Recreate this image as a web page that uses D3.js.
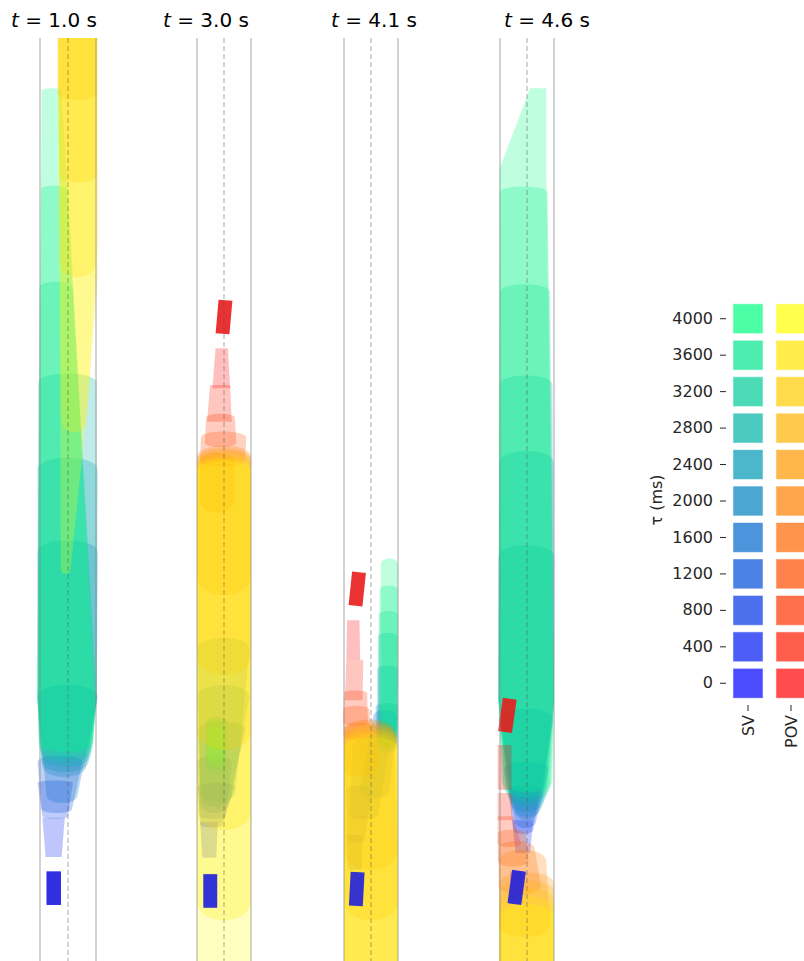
<!DOCTYPE html>
<html><head><meta charset="utf-8">
<script src="https://cdn.jsdelivr.net/npm/d3@7"></script>
<style>
body{margin:0;background:#fff}
svg{display:block}
text{font-family:"DejaVu Sans",sans-serif;fill:#262626}
</style></head>
<body><svg id="c" width="804" height="961"></svg>
<script>
// ---------------- data ----------------
const timeLabels = ["1.0", "3.0", "4.1", "4.6"];          // s
const tauValues = [0, 400, 800, 1200, 1600, 2000, 2400, 2800, 3200, 3600, 4000]; // ms
const agentNames = ["SV", "POV"];

// occupancy sets: [tauIndex, bottomBulge(m), topBulge(m), stations [[s(m), left(m), right(m)], ...] bottom->top]
const svSets1 = [
  [0, 0, 0, [[7.2, -2.7, -0.9], [11.2, -2.7, -0.9]]],
  [1, 0, 0, [[13.0, -2.8, -0.8], [17.9, -3.2, -0.4]]],
  [2, 0.3, 0.3, [[18.1, -3.2, 0.0], [22.25, -3.8, 0.6]]],
  [3, 0.5, 0.8, [[19.0, -3.3, 0.5], [24.9, -3.8, 1.8]]],
  [4, 1.0, 1.5, [[20.75, -2.7, 1.2], [33.0, -3.8, 3.7]]],
  [5, 1.5, 1.5, [[24.5, -3.2, 2.3], [32.6, -3.8, 3.6], [51.1, -3.8, 3.7]]],
  [6, 1.5, 1.5, [[25.1, -3.3, 2.6], [32.6, -3.8, 3.6], [61.4, -3.8, 3.7]]],
  [7, 1.5, 1.2, [[25.75, -3.4, 2.8], [32.6, -3.8, 3.6], [72.25, -3.7, 3.6]]],
  [8, 1.5, 0.8, [[26.4, -3.5, 3.0], [32.6, -3.8, 3.6], [84.1, -3.6, 0.6]]],
  [9, 1.5, 0.5, [[27.0, -3.6, 3.1], [32.6, -3.8, 3.5], [96.4, -3.4, 0.0]]],
  [10, 1.5, 0.3, [[27.6, -3.7, 3.2], [32.6, -3.8, 3.4], [108.8, -3.3, -0.8]]]
];
const povSets1 = [
  [6, 1.0, 0, [[108.6, -1.3, 3.6], [125, -1.3, 3.6]]],
  [7, 1.0, 0, [[98.3, -1.1, 3.6], [125, -1.3, 3.6]]],
  [8, 1.5, 0, [[87.0, -1.0, 3.4], [125, -1.3, 3.6]]],
  [9, 1.5, 0, [[67.6, -0.8, 2.3], [85.0, -1.0, 3.7], [125, -1.3, 3.7]]],
  [10, 0.5, 0, [[48.9, -0.9, 0.3], [70.0, -1.0, 2.5], [90.0, -1.1, 3.7], [125, -1.3, 3.7]]]
];
const svSets2 = [
  [0, 0, 0, [[6.9, -2.7, -0.9], [10.9, -2.7, -0.9]]],
  [1, 0, 0, [[12.9, -2.8, -1.0], [17.4, -3.1, -0.8]]],
  [2, 0.3, 0.5, [[17.0, -3.05, -0.25], [21.75, -3.4, 1.4]]],
  [3, 0.5, 1.0, [[18.25, -3.2, 0.25], [24.75, -3.5, 1.0]]],
  [4, 1.0, 1.0, [[19.5, -3.05, 0.5], [28.9, -3.4, 2.8]]],
  [5, 1.5, 1.5, [[20.75, -3.05, 1.0], [33.0, -3.4, 3.3]]],
  [6, 1.5, 1.5, [[21.4, -3.05, 1.5], [38.9, -3.4, 3.3]]],
  [7, 0.5, 0.8, [[23.9, -2.3, 0.25], [29.75, -2.4, 0.5]]],
  [8, 0.5, 0.8, [[24.5, -2.3, 0.3], [29.5, -2.3, 0.3]]],
  [9, 0.5, 0.8, [[25.0, -2.2, 0.2], [29.1, -2.2, 0.2]]],
  [10, 0.5, 0.6, [[25.5, -2.1, 0.1], [28.6, -2.1, 0.1]]]
];
const povSets2 = [
  [0, 0, 0, [[71.6, -1.5, 0.8], [76.6, -1.1, 0.5]]],
  [1, 0, 0, [[67.4, -2.2, 1.0], [72.0, -1.8, 0.8]]],
  [2, 0.5, 0.5, [[64.75, -2.5, 1.6], [67.9, -2.3, 1.4]]],
  [3, 0.8, 0.8, [[62.6, -3.1, 2.7], [65.4, -3.0, 2.9]]],
  [4, 1.5, 1.2, [[57.6, -3.1, 1.4], [62.3, -3.1, 1.4]]],
  [5, 2.5, 1.4, [[48.25, -3.5, 3.5], [63.0, -3.5, 3.5]]],
  [6, 2.5, 1.4, [[38.25, -3.5, 3.5], [62.7, -3.5, 3.5]]],
  [7, 2.5, 1.4, [[28.9, -3.5, 3.5], [62.4, -3.5, 3.5]]],
  [8, 2.5, 1.4, [[18.9, -3.5, 3.5], [62.0, -3.5, 3.5]]],
  [9, 2.5, 1.4, [[7.6, -3.5, 3.5], [61.6, -3.5, 3.5]]],
  [10, 0, 1.4, [[-4.0, -3.5, 3.5], [61.2, -3.5, 3.5]]]
];
const svSets3 = [
  [0, 0, 0, [[7.0, -2.7, -1.0], [11.0, -2.7, -1.0]]],
  [1, 0, 0, [[11.4, -2.9, -1.2], [15.75, -3.2, -1.1]]],
  [2, 0.3, 0.5, [[15.1, -3.0, -0.8], [21.4, -3.2, 0.1]]],
  [3, 0.5, 1.0, [[18.25, -2.7, 0.9], [27.0, -2.4, 2.4]]],
  [4, 1.0, 1.0, [[21.4, -1.4, 2.4], [30.4, 0.25, 3.4]]],
  [5, 1.0, 0.5, [[27.0, 0.7, 3.4], [31.75, 0.6, 3.5]]],
  [6, 1.0, 0.5, [[27.4, 0.8, 3.4], [36.4, 0.8, 3.5]]],
  [7, 1.0, 0.5, [[27.6, 0.9, 3.4], [40.5, 0.9, 3.5]]],
  [8, 1.0, 0.5, [[27.9, 1.0, 3.4], [43.25, 1.0, 3.5]]],
  [9, 1.0, 0.5, [[28.25, 1.1, 3.4], [46.4, 1.1, 3.5]]],
  [10, 1.0, 0.8, [[28.9, 1.4, 3.4], [49.5, 1.27, 3.5]]]
];
const povSets3 = [
  [0, 0, 0, [[37.6, -3.2, -1.4], [42.6, -3.1, -1.5]]],
  [1, 0, 0, [[32.6, -3.4, -1.1], [37.6, -3.2, -1.0]]],
  [2, 0.5, 0.3, [[29.9, -3.6, -0.4], [33.5, -3.5, -0.5]]],
  [3, 0.5, 0.5, [[28.2, -3.6, 0.0], [31.4, -3.6, -0.2]]],
  [4, 1.0, 0.8, [[24.0, -3.5, 1.0], [29.0, -3.5, 0.8]]],
  [5, 2.5, 1.5, [[13.9, -3.5, 3.5], [28.7, -3.5, 3.0]]],
  [6, 2.5, 1.5, [[7.6, -3.5, 3.5], [28.3, -3.5, 3.2]]],
  [7, 2.5, 1.5, [[0.1, -3.5, 3.5], [27.9, -3.5, 3.4]]],
  [8, 0, 1.5, [[-5.0, -3.5, 3.5], [27.5, -3.5, 3.5]]],
  [9, 0, 1.5, [[-5.0, -3.5, 3.5], [27.0, -3.5, 3.5]]],
  [10, 0, 1.5, [[-5.0, -3.5, 3.5], [26.5, -3.5, 3.5]]]
];
const svSets4 = [
  [0, 0, 0, [[7.2, -2.2, -0.5], [11.2, -2.2, -0.5]]],
  [1, 0, 0, [[13.5, -1.5, 0.4], [17.6, -1.9, 0.8]]],
  [2, 0.5, 0.5, [[16.4, -1.8, 0.8], [21.4, -2.4, 1.65]]],
  [3, 1.0, 1.0, [[17.6, -1.6, 1.2], [23.9, -3.0, 2.8]]],
  [4, 1.5, 1.5, [[19.1, -1.6, 1.5], [30.1, -3.7, 3.4]]],
  [5, 1.5, 1.5, [[19.5, -1.9, 1.9], [32.6, -3.7, 3.5], [50.5, -3.7, 3.56]]],
  [6, 1.5, 1.5, [[20.1, -2.2, 2.2], [32.6, -3.7, 3.5], [62.25, -3.6, 3.5]]],
  [7, 1.5, 1.2, [[20.75, -2.5, 2.5], [32.6, -3.7, 3.5], [72.0, -3.56, 3.3]]],
  [8, 1.5, 1.0, [[21.4, -2.8, 2.8], [32.6, -3.7, 3.5], [83.6, -3.5, 3.0]]],
  [9, 1.5, 0.8, [[22.0, -3.1, 3.1], [32.6, -3.7, 3.5], [96.0, -3.56, 2.67]]],
  [10, 1.5, 0, [[22.6, -3.3, 3.3], [32.6, -3.7, 3.5], [98.9, -3.6, 2.5], [109.1, 0.4, 2.5]]]
];
const povSets4 = [
  [0, 0, 0, [[21.4, -3.8, -2.0], [27.0, -3.8, -2.0]]],
  [1, 0, 0, [[17.6, -3.8, -1.9], [21.0, -3.8, -1.9]]],
  [2, 0.5, 0, [[14.75, -3.8, -0.8], [18.1, -3.8, -1.8]]],
  [3, 0.8, 0.5, [[12.6, -3.8, 0.2], [15.9, -3.8, -0.2]]],
  [4, 1.2, 1.0, [[9.5, -3.7, 1.8], [14.0, -3.7, 1.0]]],
  [5, 1.5, 1.5, [[4.5, -3.6, 3.0], [12.4, -3.6, 2.5]]],
  [6, 0, 1.5, [[-4.0, -3.6, 3.5], [9.6, -3.6, 3.5]]],
  [7, 0, 1.5, [[-4.0, -3.6, 3.5], [8.6, -3.6, 3.5]]],
  [8, 0, 1.5, [[-4.0, -3.6, 3.5], [7.6, -3.6, 3.5]]],
  [9, 0, 1.5, [[-4.0, -3.6, 3.5], [6.6, -3.6, 3.5]]],
  [10, 0, 1.5, [[-4.0, -3.6, 3.5], [5.6, -3.6, 3.5]]]
];
const svSets = [svSets1, svSets2, svSets3, svSets4];
const povSets = [povSets1, povSets2, povSets3, povSets4];

// vehicles: [lateral (m), longitudinal (m), heading offset (deg)]
const svCars = [[-1.78, 9.1, 0], [-1.78, 8.75, 0], [-1.85, 9.0, 3], [-1.34, 9.2, 8]];
const povCars = [null, [0.0, 80.5, 5], [-1.78, 46.5, 6], [-2.54, 30.7, 8]];

// ---------------- layout / style ----------------
const roadPx = [[40, 96], [197, 251], [344, 398], [500, 554]];
const titleX = [54, 206, 374, 547];
const plotTop = 38, plotBottom = 961;
const laneHalf = 3.5, carW = 1.8, carL = 4.2;
const setOpacity = 0.25, legendOpacity = 0.7;

const svColor = t => d3.rgb(0, 255 * t, 255 * (1 - 0.5 * t));
const povColor = t => d3.rgb(255, 255 * t, 0);
const tOf = k => k / (tauValues.length - 1);

const svg = d3.select("#c");
const y = d3.scaleLinear().domain([0, 115.375]).range([plotBottom, plotTop]);

function shapePath(p, xs) {
  const [k, bb, bt, st] = p;
  const n = st.length, bot = st[0], top = st[n - 1];
  let d = `M${xs(bot[1])},${y(bot[0])}`;
  for (let i = 1; i < n; i++) d += `L${xs(st[i][1])},${y(st[i][0])}`;
  const yt = y(top[0] + bt * 4 / 3);
  d += `C${xs(top[1])},${yt} ${xs(top[2])},${yt} ${xs(top[2])},${y(top[0])}`;
  for (let i = n - 2; i >= 0; i--) d += `L${xs(st[i][2])},${y(st[i][0])}`;
  const yb = y(bot[0] - bb * 4 / 3);
  d += `C${xs(bot[2])},${yb} ${xs(bot[1])},${yb} ${xs(bot[1])},${y(bot[0])}Z`;
  return d;
}

const defs = svg.append("defs");

timeLabels.forEach((lab, i) => {
  const [l, r] = roadPx[i];
  const x = d3.scaleLinear().domain([-laneHalf, laneHalf]).range([l, r]);
  defs.append("clipPath").attr("id", "clip" + i)
    .append("rect").attr("x", l - 6).attr("y", plotTop).attr("width", r - l + 12).attr("height", plotBottom - plotTop);
  const g = svg.append("g").attr("clip-path", `url(#clip${i})`);

  g.append("g").selectAll("path").data(svSets[i]).join("path")
    .attr("d", p => shapePath(p, x))
    .attr("fill", p => svColor(tOf(p[0])))
    .attr("fill-opacity", setOpacity);
  g.append("g").selectAll("path").data(povSets[i]).join("path")
    .attr("d", p => shapePath(p, x))
    .attr("fill", p => povColor(tOf(p[0])))
    .attr("fill-opacity", setOpacity);

  const pxPerM = Math.abs(x(1) - x(0)), pyPerM = Math.abs(y(1) - y(0));
  const drawCar = (c, col) => {
    if (!c) return;
    g.append("rect")
      .attr("x", -carW * pxPerM / 2).attr("y", -carL * pyPerM / 2)
      .attr("width", carW * pxPerM).attr("height", carL * pyPerM)
      .attr("transform", `translate(${x(c[0])},${y(c[1])}) rotate(${c[2]})`)
      .attr("fill", col).attr("fill-opacity", 0.9);
  };
  drawCar(povCars[i], "#e81c1c");
  drawCar(svCars[i], "#2020dd");

  // road
  [-laneHalf, laneHalf].forEach(v => {
    svg.append("line").attr("x1", x(v)).attr("x2", x(v)).attr("y1", plotTop).attr("y2", plotBottom)
      .attr("stroke", "#888").attr("stroke-opacity", 0.5).attr("stroke-width", 1.5);
  });
  svg.append("line").attr("x1", x(0)).attr("x2", x(0)).attr("y1", plotTop).attr("y2", plotBottom)
    .attr("stroke", "#555").attr("stroke-opacity", 0.5).attr("stroke-width", 1)
    .attr("stroke-dasharray", "5,3");

  const t = svg.append("text").attr("x", titleX[i]).attr("y", 27)
    .attr("text-anchor", "middle").attr("font-size", 20).style("fill", "#000");
  t.append("tspan").attr("font-style", "italic").text("t");
  t.append("tspan").text(` = ${lab} s`);
});

// ---------------- legend ----------------
const ly = d3.scaleBand().domain(tauValues.slice().reverse()).range([300.5, 701.5])
  .paddingInner(0.18).paddingOuter(0.09);
const lx = d3.scaleBand().domain(agentNames).range([726.5, 812.5]).paddingInner(0.3).paddingOuter(0.15);
const cmap = { SV: svColor, POV: povColor };
const cells = [];
agentNames.forEach(a => tauValues.forEach((v, k) => cells.push({ a, v, k })));
svg.append("g").selectAll("rect").data(cells).join("rect")
  .attr("x", d => lx(d.a)).attr("y", d => ly(d.v))
  .attr("width", lx.bandwidth()).attr("height", ly.bandwidth())
  .attr("fill", d => cmap[d.a](tOf(d.k))).attr("fill-opacity", legendOpacity)
  .attr("stroke", "#fff").attr("stroke-opacity", 0.55).attr("stroke-width", 1);

const leftAx = svg.append("g").attr("transform", "translate(726,0)")
  .call(d3.axisLeft(ly).tickSize(6).tickPadding(7));
leftAx.select(".domain").remove();
leftAx.selectAll("text").attr("font-size", 16).attr("font-family", "DejaVu Sans").style("fill", "#262626");
leftAx.selectAll("line").attr("stroke", "#262626");

const botAx = svg.append("g").attr("transform", "translate(0,705)")
  .call(d3.axisBottom(lx).tickSize(6).tickPadding(4));
botAx.select(".domain").remove();
botAx.selectAll("line").attr("stroke", "#262626");
botAx.selectAll("text").attr("font-size", 16).attr("font-family", "DejaVu Sans").style("fill", "#262626")
  .attr("text-anchor", "end").attr("dy", null).attr("x", 0).attr("y", 0)
  .attr("dominant-baseline", "central")
  .attr("transform", "translate(0,10) rotate(-90)");

svg.append("text").attr("transform", "translate(656,500) rotate(-90)")
  .attr("text-anchor", "middle").attr("dominant-baseline", "central")
  .attr("font-size", 16).text("τ (ms)");
</script></body></html>
